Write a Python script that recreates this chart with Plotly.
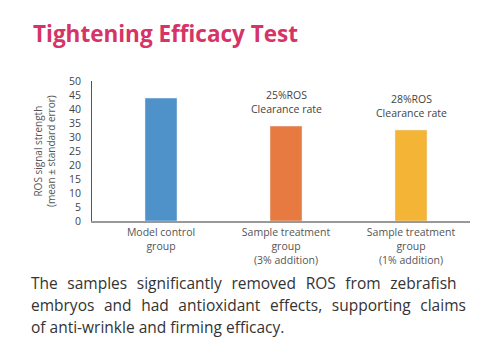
import plotly.graph_objects as go

categories = ["Model control<br>group",
              "Sample treatment<br>group<br>(3% addition)",
              "Sample treatment<br>group<br>(1% addition)"]
values = [43.9, 33.9, 32.5]
colors = ["#4f91c9", "#e67a40", "#f4b436"]
bar_notes = ["", "25%ROS<br>Clearance rate", "28%ROS<br>Clearance rate"]
y_ticks = [0, 5, 10, 15, 20, 25, 30, 35, 40, 45, 50]

title_text = "Tightening Efficacy Test"
y_title = "ROS signal strength<br>(mean ± standard error)"
caption_lines = [
    "The samples significantly removed ROS from zebrafish",
    "embryos and had antioxidant effects, supporting claims",
    "of anti-wrinkle and firming efficacy.",
]
caption_justify = [True, True, False]

FONT = "Open Sans"
W, H = 492, 349
L, R, T, B = 92, 22, 81, 128
pw, ph = W - L - R, H - T - B

def px(x):
    return (x - L) / pw

def py(y):
    return (H - B - y) / ph

fig = go.Figure()
fig.add_trace(go.Bar(x=list(range(len(categories))), y=values, marker_color=colors,
                     width=0.256, showlegend=False))

for i, (v, note) in enumerate(zip(values, bar_notes)):
    if note:
        fig.add_annotation(x=i, y=v, xref="x", yref="y", text=note, showarrow=False,
                           yanchor="bottom", yshift=8,
                           font=dict(family=FONT, size=10.5, color="#444"))

fig.add_annotation(x=px(31), y=py(33), xref="paper", yref="paper", text=f"<b>{title_text}</b>",
                   showarrow=False, xanchor="left", yanchor="middle",
                   font=dict(family=FONT, size=22.5, color="#d63366"))

fig.add_annotation(x=px(44), y=py(151), xref="paper", yref="paper", text=y_title,
                   showarrow=False, textangle=-90, xanchor="center", yanchor="middle",
                   font=dict(family=FONT, size=10, color="#555"))

for k, (line, just) in enumerate(zip(caption_lines, caption_justify)):
    txt = line.replace(" ", " &nbsp;&#8202;") if just else line
    fig.add_annotation(x=px(29), y=py(283 + 22 * k), xref="paper", yref="paper", text=txt,
                       showarrow=False, xanchor="left", yanchor="middle",
                       font=dict(family=FONT, size=15.5, color="#333"))

fig.update_layout(
    width=W, height=H,
    margin=dict(l=L, r=R, t=T, b=B),
    paper_bgcolor="white", plot_bgcolor="white",
    xaxis=dict(range=[-0.552, 2.472], tickvals=list(range(len(categories))), ticktext=categories,
               showline=True, linecolor="#999", linewidth=1.5, showgrid=False, zeroline=False,
               ticks="", ticklabelstandoff=1,
               tickfont=dict(family=FONT, size=10.5, color="#555")),
    yaxis=dict(range=[0, 50], tickvals=y_ticks, showline=True, linecolor="#555", linewidth=1,
               showgrid=False, zeroline=False, ticks="", ticklabelstandoff=8,
               tickfont=dict(family=FONT, size=10.5, color="#444")),
)

fig.write_html("out.html")
